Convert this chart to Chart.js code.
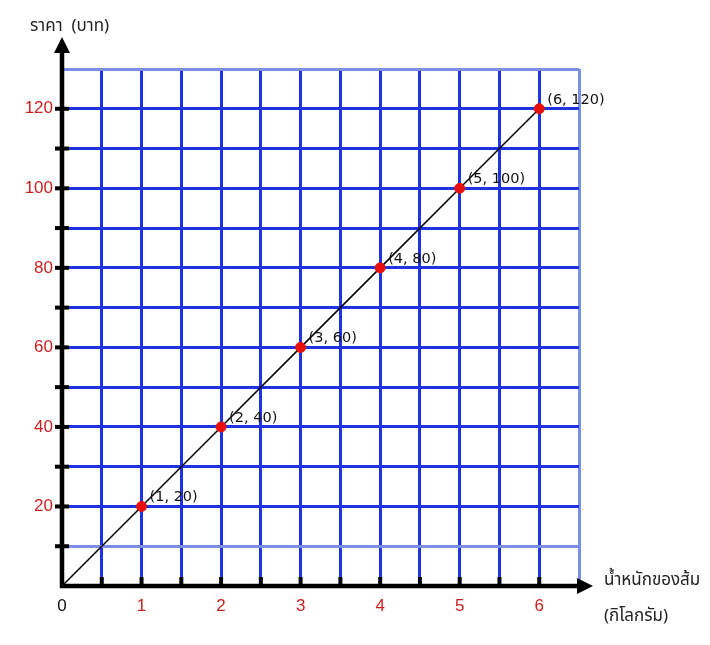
<!DOCTYPE html>
<html>
<head>
<meta charset="utf-8">
<script src="https://cdn.jsdelivr.net/npm/chart.js@4"></script>
<style>
html,body{margin:0;padding:0;background:#fff;}
#wrap{width:710px;height:645px;position:relative;}
</style>
</head>
<body>
<div id="wrap"><canvas id="c"></canvas></div>
<script>
const weights = [1, 2, 3, 4, 5, 6];
const prices = [20, 40, 60, 80, 100, 120];
const lineX = [0, 1, 2, 3, 4, 5, 6];
const lineY = [0, 20, 40, 60, 80, 100, 120];
const yTitle = 'ราคา  (บาท)';
const xTitle1 = 'น้ำหนักของส้ม';
const xTitle2 = '(กิโลกรัม)';
const xMax = 6.5, yMax = 130;

const THAI = "'Noto Sans Thai','Noto Sans','DejaVu Sans',sans-serif";
const RED = '#cc1f1f';
const BLUE = '#1f33e4';
const LIGHT = '#7a8ee9';

const axesPlugin = {
  id: 'axesArrows',
  afterDatasetsDraw(chart) {
    const ctx = chart.ctx;
    const xs = chart.scales.x, ys = chart.scales.y;
    const ox = xs.getPixelForValue(0), oy = ys.getPixelForValue(0);
    ctx.save();
    ctx.strokeStyle = '#000';
    ctx.fillStyle = '#000';
    ctx.lineWidth = 4.5;
    ctx.beginPath(); ctx.moveTo(ox, oy + 2); ctx.lineTo(ox, 50); ctx.stroke();
    ctx.beginPath(); ctx.moveTo(ox, 37); ctx.lineTo(ox - 8, 53); ctx.lineTo(ox + 8, 53); ctx.closePath(); ctx.fill();
    ctx.beginPath(); ctx.moveTo(ox - 2, oy); ctx.lineTo(580, oy); ctx.stroke();
    ctx.beginPath(); ctx.moveTo(593, oy); ctx.lineTo(577, oy - 8); ctx.lineTo(577, oy + 8); ctx.closePath(); ctx.fill();
    ctx.lineWidth = 4;
    for (let v = 10; v <= 120; v += 10) {
      const p = ys.getPixelForValue(v);
      ctx.beginPath(); ctx.moveTo(ox - 7, p); ctx.lineTo(ox + 7, p); ctx.stroke();
    }
    for (let v = 0.5; v <= 6; v += 0.5) {
      const p = xs.getPixelForValue(v);
      ctx.beginPath(); ctx.moveTo(p, oy - 9); ctx.lineTo(p, oy); ctx.stroke();
    }
    ctx.font = '14.5px ' + "'DejaVu Sans',sans-serif";
    ctx.fillStyle = '#111';
    ctx.textBaseline = 'middle';
    ctx.textAlign = 'left';
    for (let i = 0; i < weights.length; i++) {
      const px = xs.getPixelForValue(weights[i]);
      const py = ys.getPixelForValue(prices[i]);
      ctx.fillText('(' + weights[i] + ', ' + prices[i] + ')', px + 8, py - 9);
    }
    ctx.fillStyle = '#222';
    ctx.font = '17px ' + THAI;
    ctx.textBaseline = 'middle';
    ctx.fillText(yTitle, 30, 28);
    ctx.fillText(xTitle1, 604, 582);
    ctx.fillText(xTitle2, 604, 618);
    ctx.restore();
  }
};

new Chart(document.getElementById('c'), {
  type: 'scatter',
  data: {
    datasets: [
      {
        type: 'line',
        data: lineX.map((x, i) => ({x: x, y: lineY[i]})),
        borderColor: '#000',
        borderWidth: 1.5,
        pointRadius: 0,
        fill: false,
        order: 2
      },
      {
        data: weights.map((x, i) => ({x: x, y: prices[i]})),
        backgroundColor: '#e8100f',
        borderColor: '#e8100f',
        pointRadius: 5,
        order: 1
      }
    ]
  },
  options: {
    responsive: true,
    maintainAspectRatio: false,
    animation: false,
    layout: {padding: {left: 12, right: 131, top: 69, bottom: 19}},
    plugins: {legend: {display: false}, tooltip: {enabled: false}},
    scales: {
      x: {
        type: 'linear',
        min: 0, max: xMax,
        afterFit: s => { s.height = 40; },
        afterBuildTicks: s => { const t = []; for (let v = 0; v <= xMax + 1e-9; v += 0.5) t.push({value: v}); s.ticks = t; },
        border: {display: false},
        grid: {
          lineWidth: 3,
          drawTicks: false,
          color: c => (c.tick && (c.tick.value >= 6.5 || c.tick.value === 0)) ? LIGHT : BLUE
        },
        ticks: {
          padding: 10,
          autoSkip: false,
          maxRotation: 0,
          font: {size: 17, family: "'Liberation Sans',Arial,sans-serif"},
          color: c => c.tick && c.tick.value === 0 ? '#111' : RED,
          callback: v => Number.isInteger(v) && v <= 6 ? String(v) : ''
        }
      },
      y: {
        type: 'linear',
        min: 0, max: yMax,
        afterFit: s => { s.width = 50; },
        afterBuildTicks: s => { const t = []; for (let v = 0; v <= yMax; v += 10) t.push({value: v}); s.ticks = t; },
        border: {display: false},
        grid: {
          lineWidth: 3,
          drawTicks: false,
          color: c => (c.tick && (c.tick.value >= 130 || c.tick.value === 10)) ? LIGHT : BLUE
        },
        ticks: {
          padding: 9,
          autoSkip: false,
          font: {size: 17, family: "'Liberation Sans',Arial,sans-serif"},
          color: RED,
          callback: v => (v > 0 && v % 20 === 0 && v <= 120) ? String(v) : ''
        }
      }
    }
  },
  plugins: [axesPlugin]
});
</script>
</body>
</html>
